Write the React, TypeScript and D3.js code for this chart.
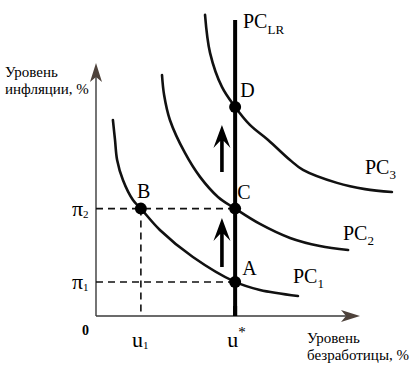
import React from "react";
import * as d3 from "d3";

// ---- data (abstract units) ----
const U1 = 1.7; // u1
const USTAR = 5.27; // u*
const PI1 = 1.31; // π1
const PI2 = 4.13; // π2
const PID = 8.04; // inflation at D
const LR_TOP = 11.38;

const pc1: [number, number][] = [
  [0.64, 7.54], [0.72, 6.77], [0.8, 6.0], [1.02, 5.23], [1.4, 4.46], [1.7, 4.13],
  [2.42, 3.31], [3.67, 2.27], [5.27, 1.31], [6.21, 1.0], [7.65, 0.77],
];
const pc2: [number, number][] = [
  [2.5, 9.27], [2.58, 8.5], [2.8, 7.54], [3.37, 6.27], [3.94, 5.35], [4.62, 4.58],
  [5.27, 4.13], [6.21, 3.54], [7.35, 3.0], [8.48, 2.69], [9.55, 2.54],
];
const pc3: [number, number][] = [
  [4.13, 11.58], [4.32, 10.12], [4.77, 8.81], [5.27, 8.04],
  [5.83, 7.35], [6.52, 6.77], [7.35, 6.0], [7.84, 5.62], [9.13, 5.12],
  [10.19, 4.88], [11.21, 4.77],
];
const shiftArrows: { x: number; from: number; to: number }[] = [
  { x: 4.77, from: 1.88, to: 3.77 },
  { x: 4.77, from: 5.54, to: 7.35 },
];
const points = [
  { name: "A", x: USTAR, y: PI1 },
  { name: "B", x: U1, y: PI2 },
  { name: "C", x: USTAR, y: PI2 },
  { name: "D", x: USTAR, y: PID },
];

const W = 415;
const H = 377;
const x = d3.scaleLinear().domain([0, 10]).range([96, 360]);
const y = d3.scaleLinear().domain([0, 10]).range([316, 56]);

const line = d3
  .line<[number, number]>()
  .x((d) => x(d[0]))
  .y((d) => y(d[1]))
  .curve(d3.curveCatmullRom.alpha(0.5));

const SERIF = "Liberation Serif";
const axisColor = "#3a3a3a";
const headColor = "#4e423b";

function upArrow(px: number, yTip: number, yBottom: number) {
  return `M${px},${yTip} L${px + 8.5},${yTip + 23} L${px + 1.8},${yTip + 16} L${px + 1.8},${yBottom} L${px - 1.8},${yBottom} L${px - 1.8},${yTip + 16} L${px - 8.5},${yTip + 23} Z`;
}

function T(props: React.SVGProps<SVGTextElement>) {
  return <text fontFamily={SERIF} style={{ fontFamily: `"${SERIF}"` }} {...props} />;
}

export default function App() {
  const x0 = x(0);
  const y0 = y(0);
  const labelOffsets: Record<string, [number, number]> = {
    A: [7, -7],
    B: [-4, -11],
    C: [2, -10],
    D: [5, -10],
  };
  return (
    <svg width={W} height={H} style={{ position: "absolute", left: 0, top: 0, background: "#fff" }}>
      {/* axes */}
      <line x1={x0} y1={y0} x2={x0} y2={70} stroke={axisColor} strokeWidth={1.4} />
      <line x1={x0} y1={y0} x2={352} y2={y0} stroke={axisColor} strokeWidth={1.4} />
      <path d={`M${x0},63 L${x0 + 6},82 L${x0},77 L${x0 - 6},82 Z`} fill={headColor} />
      <path d={`M360,${y0} L341,${y0 - 6} L346,${y0} L341,${y0 + 6} Z`} fill={headColor} />

      {/* dashed guides */}
      <line x1={x0} y1={y(PI2)} x2={x(USTAR)} y2={y(PI2)} stroke="#111" strokeWidth={1.6} strokeDasharray="7,5" />
      <line x1={x0} y1={y(PI1)} x2={x(USTAR)} y2={y(PI1)} stroke="#111" strokeWidth={1.6} strokeDasharray="7,5" />
      <line x1={x(U1)} y1={y(PI2)} x2={x(U1)} y2={y0} stroke="#111" strokeWidth={1.6} strokeDasharray="7,5" />

      {/* curves */}
      {[pc1, pc2, pc3].map((c, i) => (
        <path key={i} d={line(c) || ""} fill="none" stroke="#111" strokeWidth={2.6} strokeLinecap="round" />
      ))}

      {/* PC_LR */}
      <line x1={x(USTAR)} y1={y(LR_TOP)} x2={x(USTAR)} y2={y0} stroke="#000" strokeWidth={4} />

      {/* shift arrows */}
      {shiftArrows.map((a, i) => (
        <path key={i} d={upArrow(x(a.x), y(a.to), y(a.from))} fill="#000" />
      ))}

      {/* points */}
      {points.map((p) => (
        <circle key={p.name} cx={x(p.x)} cy={y(p.y)} r={6} fill="#000" />
      ))}
      {points.map((p) => (
        <T
          key={"t" + p.name}
          x={x(p.x) + labelOffsets[p.name][0]}
          y={y(p.y) + labelOffsets[p.name][1]}
          fontSize={20}
          fill="#000"
        >
          {p.name}
        </T>
      ))}

      {/* curve labels */}
      <T x={243} y={28} fontSize={20}>
        PC<tspan fontSize={13} dy={6}>LR</tspan>
      </T>
      <T x={293} y={283} fontSize={20}>
        PC<tspan fontSize={13} dy={5}>1</tspan>
      </T>
      <T x={343} y={240} fontSize={20}>
        PC<tspan fontSize={13} dy={5}>2</tspan>
      </T>
      <T x={365} y={174} fontSize={20}>
        PC<tspan fontSize={13} dy={5}>3</tspan>
      </T>

      {/* y tick labels */}
      <T x={72} y={y(PI2) + 7} fontSize={22}>
        π<tspan fontSize={11} dy={2}>2</tspan>
      </T>
      <T x={72} y={y(PI1) + 7} fontSize={22}>
        π<tspan fontSize={11} dy={2}>1</tspan>
      </T>

      {/* x ticks */}
      <line x1={x(USTAR)} y1={y0 - 10} x2={x(USTAR)} y2={y0} stroke="#000" strokeWidth={4} />
      <T x={82} y={335} fontSize={14} fontWeight="bold">0</T>
      <T x={x(U1) - 9} y={347} fontSize={22}>
        u<tspan fontSize={11} dy={2}>1</tspan>
      </T>
      <T x={x(USTAR) - 8} y={347} fontSize={22}>
        u<tspan fontSize={15} dy={-10}>*</tspan>
      </T>

      {/* axis titles */}
      <T x={5} y={77} fontSize={15}>Уровень</T>
      <T x={5} y={94} fontSize={15}>инфляции, %</T>
      <T x={307} y={343} fontSize={15}>Уровень</T>
      <T x={307} y={360} fontSize={15}>безработицы, %</T>
    </svg>
  );
}
